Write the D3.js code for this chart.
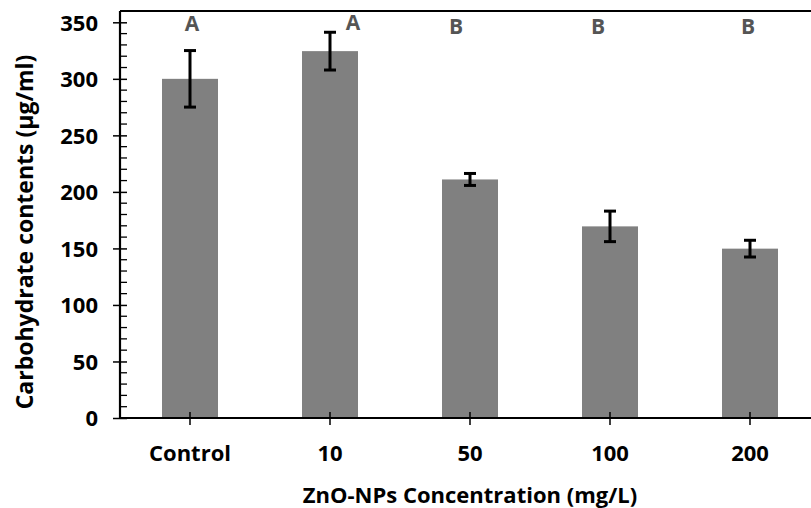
<!DOCTYPE html>
<html>
<head>
<meta charset="utf-8">
<script src="https://cdn.jsdelivr.net/npm/d3@7"></script>
<style>
  body { margin: 0; background: #fff; }
  text { font-family: "Open Sans", "Noto Sans", sans-serif; font-weight: bold; }
</style>
</head>
<body>
<svg id="chart" width="811" height="508"></svg>
<script>
const categories = ["Control", "10", "50", "100", "200"];
const means = [300, 324.5, 211, 169.5, 149.8];
const errors = [25, 16.7, 5.3, 13.5, 7.4];
const letters = ["A", "A", "B", "B", "B"];
const yTicks = [0, 50, 100, 150, 200, 250, 300, 350];

// hand placed letter boxes in the original, small nudges from bar centre
const letterNudge = [2, 23, -14, -12, -2];
const letterDrop = [0, -1, 3, 3, 3];

const svg = d3.select("#chart");
const plotLeft = 120, plotTop = 11, plotBottom = 418;

const x = d3.scaleBand().domain(categories).range([plotLeft, 820])
            .paddingInner(0.6).paddingOuter(0.3);
const y = d3.scaleLinear().domain([0, 360]).range([plotBottom, plotTop]);

// bars
svg.append("g").selectAll("rect")
   .data(categories)
   .enter()
   .append("rect")
   .attr("x", (d) => x(d))
   .attr("y", (d, i) => y(means[i]))
   .attr("width", x.bandwidth())
   .attr("height", (d, i) => plotBottom - y(means[i]))
   .attr("fill", "#808080");

// error bars
const errG = svg.append("g").attr("stroke", "#000").attr("stroke-width", 3);
categories.forEach((c, i) => {
  const cx = x(c) + x.bandwidth() / 2;
  const hi = y(means[i] + errors[i]), lo = y(means[i] - errors[i]);
  errG.append("line").attr("x1", cx).attr("x2", cx).attr("y1", hi).attr("y2", lo);
  errG.append("line").attr("x1", cx - 6).attr("x2", cx + 6).attr("y1", hi).attr("y2", hi);
  errG.append("line").attr("x1", cx - 6).attr("x2", cx + 6).attr("y1", lo).attr("y2", lo);
});

// minor y ticks (inside)
const minor = d3.range(0, 361, 10).filter((v) => v % 50 !== 0);
svg.append("g").selectAll("line")
   .data(minor)
   .enter()
   .append("line")
   .attr("x1", plotLeft).attr("x2", plotLeft + 7)
   .attr("y1", (d) => y(d)).attr("y2", (d) => y(d))
   .attr("stroke", "#000").attr("stroke-width", 1.3);

// y axis
const yAxis = svg.append("g")
   .attr("transform", "translate(" + plotLeft + ",0)")
   .call(d3.axisLeft(y).tickValues(yTicks).tickSize(7).tickPadding(14));
yAxis.select(".domain").remove();
yAxis.selectAll(".tick line").attr("x2", 7).attr("x1", -7).attr("stroke-width", 1.5);
yAxis.selectAll(".tick text").attr("font-size", 22).attr("fill", "#000")
     .attr("x", -22).attr("dy", "0.36em");

// x axis
const xAxis = svg.append("g")
   .attr("transform", "translate(0," + plotBottom + ")")
   .call(d3.axisBottom(x).tickSize(7).tickPadding(20));
xAxis.select(".domain").remove();
xAxis.selectAll(".tick line").attr("y1", -6).attr("y2", 7).attr("stroke-width", 1.5);
xAxis.selectAll(".tick text").attr("font-size", 22).attr("fill", "#000")
     .attr("y", 43).attr("dy", 0);

// frame lines
svg.append("line").attr("x1", plotLeft).attr("x2", plotLeft).attr("y1", plotTop).attr("y2", plotBottom + 1)
   .attr("stroke", "#000").attr("stroke-width", 2.2);
svg.append("line").attr("x1", plotLeft).attr("x2", 811).attr("y1", plotBottom).attr("y2", plotBottom)
   .attr("stroke", "#000").attr("stroke-width", 2.2);
svg.append("line").attr("x1", plotLeft).attr("x2", 811).attr("y1", plotTop).attr("y2", plotTop)
   .attr("stroke", "#000").attr("stroke-width", 2);

// significance letters
svg.append("g").selectAll("text")
   .data(letters)
   .enter()
   .append("text")
   .attr("x", (d, i) => x(categories[i]) + x.bandwidth() / 2 + letterNudge[i])
   .attr("y", (d, i) => 31 + letterDrop[i])
   .attr("text-anchor", "middle")
   .attr("font-size", 21)
   .attr("fill", "#555555")
   .text((d) => d);

// axis titles
svg.append("text")
   .attr("transform", "translate(33,232) rotate(-90)")
   .attr("text-anchor", "middle")
   .attr("font-size", 23)
   .attr("fill", "#000")
   .text("Carbohydrate contents (µg/ml)");

svg.append("text")
   .attr("x", 470).attr("y", 503)
   .attr("text-anchor", "middle")
   .attr("font-size", 22)
   .attr("fill", "#000")
   .text("ZnO-NPs Concentration (mg/L)");
</script>
</body>
</html>
